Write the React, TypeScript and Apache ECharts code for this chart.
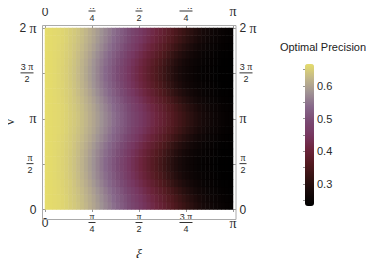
import React, { useEffect, useRef } from 'react';
import * as echarts from 'echarts';

// Tick labels
const xiTickLabels = ['0', 'π/4', 'π/2', '3π/4', 'π'];
const nuTickLabels = ['0', 'π/2', 'π', '3π/2', '2π'];
const colorbarTicks = [0.3, 0.4, 0.5, 0.6];
const colorbarSmallTicks = [0.25, 0.3, 0.35, 0.4, 0.45, 0.5, 0.55, 0.6, 0.65];
const valueMin = 0.233;
const valueMax = 0.667;
const colorbarTitle = 'Optimal Precision';

// Colour ramp (evenly spaced from valueMin to valueMax)
const rampColors = [
  '#000000', '#160909', '#341313', '#531a20', '#6c243c', '#773760',
  '#7a4a73', '#87688a', '#a09394', '#c2b78a', '#e6dd6b',
];

// Optimal precision along ξ (48 cells over [0, π]) for ν rows
// ν = π/24, 3π/24, 5π/24, 7π/24, 9π/24, 11π/24 (pattern repeats with period π, mirrored)
const rowNu1 = [0.666, 0.665, 0.663, 0.661, 0.658, 0.654, 0.649, 0.644, 0.638, 0.630, 0.622, 0.612, 0.602, 0.591, 0.579, 0.567, 0.556, 0.544, 0.532, 0.520, 0.508, 0.496, 0.482, 0.470, 0.457, 0.444, 0.433, 0.421, 0.409, 0.398, 0.387, 0.375, 0.364, 0.352, 0.340, 0.328, 0.316, 0.305, 0.294, 0.285, 0.277, 0.270, 0.263, 0.257, 0.252, 0.248, 0.245, 0.242];
const rowNu3 = [0.666, 0.665, 0.663, 0.661, 0.658, 0.654, 0.648, 0.643, 0.636, 0.629, 0.620, 0.610, 0.599, 0.587, 0.575, 0.563, 0.551, 0.539, 0.527, 0.515, 0.503, 0.490, 0.476, 0.463, 0.450, 0.438, 0.426, 0.414, 0.402, 0.390, 0.379, 0.367, 0.356, 0.344, 0.331, 0.318, 0.307, 0.296, 0.286, 0.278, 0.270, 0.263, 0.257, 0.252, 0.248, 0.245, 0.242, 0.240];
const rowNu5 = [0.666, 0.665, 0.663, 0.660, 0.657, 0.652, 0.647, 0.641, 0.634, 0.626, 0.616, 0.606, 0.594, 0.581, 0.569, 0.556, 0.544, 0.531, 0.519, 0.506, 0.493, 0.479, 0.465, 0.452, 0.439, 0.426, 0.414, 0.401, 0.390, 0.377, 0.366, 0.354, 0.341, 0.328, 0.315, 0.303, 0.292, 0.283, 0.274, 0.267, 0.260, 0.255, 0.250, 0.246, 0.243, 0.240, 0.239, 0.237];
const rowNu7 = [0.666, 0.665, 0.662, 0.660, 0.656, 0.651, 0.646, 0.639, 0.631, 0.622, 0.612, 0.600, 0.587, 0.574, 0.561, 0.548, 0.535, 0.522, 0.509, 0.495, 0.481, 0.467, 0.453, 0.439, 0.426, 0.413, 0.400, 0.388, 0.375, 0.363, 0.350, 0.337, 0.323, 0.310, 0.298, 0.288, 0.279, 0.270, 0.263, 0.257, 0.251, 0.247, 0.244, 0.241, 0.239, 0.237, 0.236, 0.235];
const rowNu9 = [0.666, 0.665, 0.662, 0.659, 0.656, 0.650, 0.644, 0.637, 0.629, 0.619, 0.608, 0.595, 0.582, 0.568, 0.555, 0.542, 0.528, 0.515, 0.500, 0.486, 0.471, 0.457, 0.442, 0.429, 0.415, 0.402, 0.389, 0.376, 0.363, 0.350, 0.336, 0.322, 0.309, 0.296, 0.286, 0.277, 0.268, 0.261, 0.255, 0.250, 0.246, 0.242, 0.240, 0.238, 0.236, 0.235, 0.234, 0.233];
const rowNu11 = [0.666, 0.665, 0.662, 0.659, 0.655, 0.650, 0.643, 0.636, 0.627, 0.617, 0.605, 0.592, 0.579, 0.565, 0.551, 0.537, 0.524, 0.510, 0.495, 0.480, 0.465, 0.450, 0.436, 0.423, 0.409, 0.396, 0.383, 0.369, 0.356, 0.342, 0.328, 0.314, 0.301, 0.290, 0.280, 0.271, 0.263, 0.256, 0.251, 0.247, 0.243, 0.240, 0.238, 0.237, 0.235, 0.234, 0.234, 0.233];

const rowProfiles = [rowNu1, rowNu3, rowNu5, rowNu7, rowNu9, rowNu11];
// 24 ν cells over [0, 2π], bottom to top
const nuRowOrder = [0, 1, 2, 3, 4, 5, 5, 4, 3, 2, 1, 0, 0, 1, 2, 3, 4, 5, 5, 4, 3, 2, 1, 0];

const xiCells = rowNu1.map((_, i) => 'x' + i);
const nuCells = nuRowOrder.map((_, j) => 'y' + j);

const heatData: [number, number, number][] = [];
nuRowOrder.forEach((r, j) => {
  rowProfiles[r].forEach((v, i) => heatData.push([i, j, v]));
});

const SANS = 'Liberation Sans';
const SERIF = 'Liberation Serif';
const TXT = '#2a2a2a';

function makeFmt(pad: boolean) {
  return (label: string): string => {
    const sp = pad ? '{sp| }' : '';
    const parts = label.split('/');
    if (parts.length === 2) {
      const coef = parts[0].replace('π', '');
      const num = coef ? `{fs|${coef} }{fp|π}` : `{fp|π}`;
      const bar = coef ? 'b2' : 'b1';
      return `${num}${sp}\n{${bar}| }${sp}\n{fd|${parts[1]}}${sp}`;
    }
    if (label.includes('π')) {
      const coef = label.replace('π', '');
      return coef ? `{s|${coef} }{p|π}` : `{p|π}`;
    }
    return `{s|${label}}`;
  };
}
const fmt = makeFmt(false);
const fmtLeft = makeFmt(true);

const rich = {
  s: { fontFamily: SANS, fontSize: 12, lineHeight: 14, color: TXT },
  p: { fontFamily: SERIF, fontSize: 14, lineHeight: 14, color: TXT },
  fs: { fontFamily: SANS, fontSize: 9, lineHeight: 8, color: TXT, align: 'center' },
  fp: { fontFamily: SERIF, fontSize: 10, lineHeight: 8, color: TXT, align: 'center' },
  fd: { fontFamily: SANS, fontSize: 9, lineHeight: 9, color: TXT, align: 'center' },
  b1: { width: 7, height: 1, lineHeight: 4, fontSize: 1, backgroundColor: '#333', align: 'center' },
  b2: { width: 13, height: 1, lineHeight: 4, fontSize: 1, backgroundColor: '#333', align: 'center' },
  sp: { width: 3, fontSize: 1, lineHeight: 1, align: 'center' },
};

const tickStyle = { show: true, inside: true, length: 3, interval: 0, lineStyle: { color: '#999', width: 1 } };

export default function App() {
  const ref = useRef<HTMLDivElement>(null);
  useEffect(() => {
    if (!ref.current) return;
    const chart = echarts.init(ref.current, undefined, { renderer: 'svg' });
    const option: any = {
      animation: false,
      backgroundColor: '#ffffff',
      grid: [
        { left: 45, top: 28, width: 188, height: 189 },
        { left: 305, top: 64, width: 9, height: 142 },
      ],
      xAxis: [
        { type: 'category', gridIndex: 0, data: xiCells, show: false },
        {
          type: 'category', gridIndex: 0, data: xiTickLabels, boundaryGap: false, position: 'bottom', offset: 2.5,
          axisLine: { show: false }, axisTick: tickStyle, splitLine: { show: false },
          axisLabel: { interval: 0, margin: 11, verticalAlign: 'middle', formatter: fmt, rich },
          name: 'ξ', nameLocation: 'middle', nameGap: 35,
          nameTextStyle: { fontFamily: SERIF, fontStyle: 'italic', fontSize: 14, color: TXT },
        },
        {
          type: 'category', gridIndex: 0, data: xiTickLabels, boundaryGap: false, position: 'top', offset: 2.5,
          axisLine: { show: false }, axisTick: tickStyle, splitLine: { show: false },
          axisLabel: { interval: 0, margin: 14, verticalAlign: 'middle', formatter: fmt, rich },
        },
        { type: 'value', gridIndex: 1, min: 0, max: 1, show: false },
      ],
      yAxis: [
        { type: 'category', gridIndex: 0, data: nuCells, show: false },
        {
          type: 'category', gridIndex: 0, data: nuTickLabels, boundaryGap: false, position: 'left', offset: 2.5,
          axisLine: { show: false }, axisTick: tickStyle, splitLine: { show: false },
          axisLabel: { interval: 0, margin: 6, formatter: fmtLeft, rich },
        },
        {
          type: 'category', gridIndex: 0, data: nuTickLabels, boundaryGap: false, position: 'right', offset: 3,
          axisLine: { show: false }, axisTick: tickStyle, splitLine: { show: false },
          axisLabel: { interval: 0, margin: 3.5, formatter: fmt, rich },
        },
        {
          type: 'value', gridIndex: 1, min: valueMin, max: valueMax, position: 'right',
          axisLine: { show: false }, splitLine: { show: false },
          axisTick: { show: true, inside: true, length: 2, customValues: colorbarSmallTicks, lineStyle: { color: '#999' } },
          axisLabel: {
            customValues: colorbarTicks, margin: 3, fontFamily: SANS, fontSize: 11, color: TXT,
            formatter: (v: number) => v.toFixed(1),
          },
        },
      ],
      visualMap: {
        type: 'continuous', min: valueMin, max: valueMax, seriesIndex: 0, show: true,
        left: 305, top: 64, itemWidth: 9, itemHeight: 142, padding: 0, text: [],
        calculable: false, hoverLink: false, showLabel: false,
        inRange: { color: rampColors },
      },
      graphic: [
        {
          type: 'rect', shape: { x: 42.5, y: 25.5, width: 193.5, height: 194 },
          style: { fill: 'none', stroke: '#aaaaaa', lineWidth: 1 }, z: 10, silent: true,
        },
        {
          type: 'text', x: 323, y: 47,
          style: { text: colorbarTitle, fontFamily: SANS, fontSize: 11, fill: '#222', align: 'center', verticalAlign: 'middle' },
        },
        {
          type: 'text', x: 9, y: 122, rotation: Math.PI / 2,
          style: { text: 'ν', fontFamily: SERIF, fontSize: 14, fill: TXT, align: 'center', verticalAlign: 'middle' },
        },
      ],
      series: [
        {
          type: 'heatmap', xAxisIndex: 0, yAxisIndex: 0, data: heatData,
          itemStyle: { borderWidth: 0 }, emphasis: { disabled: true }, progressive: 0,
        },
      ],
    };
    chart.setOption(option);
    return () => chart.dispose();
  }, []);
  return <div ref={ref} style={{ width: 374, height: 266, margin: -8 }} />;
}
